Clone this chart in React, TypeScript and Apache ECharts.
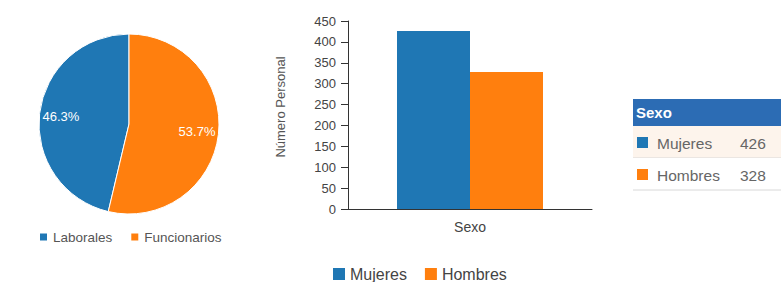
import React, { useEffect, useRef } from "react";
import * as echarts from "echarts";

const pieNames = ["Laborales", "Funcionarios"];
const pieValues = [46.3, 53.7];
const barCategories = ["Sexo"];
const barSeriesNames = ["Mujeres", "Hombres"];
const barValues = [426, 328];
const yTicks = { min: 0, max: 450, interval: 50 };
const colors = ["#1f77b4", "#ff7f0e"];

export default function App() {
  const ref = useRef<HTMLDivElement>(null);
  useEffect(() => {
    if (!ref.current) return;
    const chart = echarts.init(ref.current, undefined, { renderer: "svg" });
    const font = "Arial, 'Liberation Sans', sans-serif";
    const pieData = pieNames.map((n, i) => ({ name: n, value: pieValues[i], itemStyle: { color: colors[i] } }));

    const tableX = 633;
    const tableRows = barSeriesNames.map((n, i) => {
      const y = 126 + i * 32;
      return [
        { type: "rect", shape: { x: tableX, y, width: 148, height: 32 }, style: { fill: i === 0 ? "#fdf4ec" : "#ffffff" } },
        { type: "line", shape: { x1: tableX, y1: y + 32, x2: 781, y2: y + 32 }, style: { stroke: "#d8d8d8", lineWidth: 1 } },
        { type: "rect", shape: { x: 637, y: y + 11, width: 11, height: 11 }, style: { fill: colors[i] } },
        { type: "text", x: 657, y: y + 17, style: { text: n, fill: "#666", font: `15.5px ${font}`, verticalAlign: "middle" } },
        { type: "text", x: 740, y: y + 17, style: { text: String(barValues[i]), fill: "#666", font: `15.5px ${font}`, verticalAlign: "middle" } },
      ];
    }).flat();

    chart.setOption({
      animation: false,
      textStyle: { fontFamily: font },
      legend: [
        {
          data: pieNames,
          left: 38,
          top: 230,
          padding: 0,
          itemWidth: 9,
          itemHeight: 9,
          itemGap: 17,
          icon: "rect",
          textStyle: { fontSize: 13.5, color: "#555", fontFamily: font },
        },
        {
          data: barSeriesNames,
          left: 333,
          top: 266,
          padding: 0,
          itemWidth: 12,
          itemHeight: 12,
          itemGap: 18,
          icon: "rect",
          textStyle: { fontSize: 16, color: "#444", fontFamily: font },
        },
      ],
      grid: { left: 348, right: 189, top: 21, bottom: 73 },
      xAxis: {
        type: "category",
        data: barCategories,
        axisLine: { lineStyle: { color: "#333" } },
        axisTick: { length: 5, lineStyle: { color: "#333" } },
        axisLabel: { color: "#444", fontSize: 14, margin: 11 },
      },
      yAxis: {
        type: "value",
        min: yTicks.min,
        max: yTicks.max,
        interval: yTicks.interval,
        name: "Número Personal",
        nameLocation: "middle",
        nameGap: 61,
        nameTextStyle: { color: "#555", fontSize: 13, padding: [0, 0, 0, 16] },
        axisLine: { show: true, lineStyle: { color: "#333" } },
        axisTick: { show: true, length: 7, lineStyle: { color: "#333" } },
        axisLabel: { color: "#444", fontSize: 13, margin: 12 },
        splitLine: { show: false },
      },
      series: [
        {
          type: "pie",
          center: [129, 124],
          radius: [0, 90],
          startAngle: 90,
          clockwise: false,
          data: pieData,
          label: { show: false },
          labelLine: { show: false },
          itemStyle: { borderColor: "#fff", borderWidth: 1 },
          silent: true,
        },
        {
          type: "pie",
          center: [129, 124],
          radius: [0, 131],
          startAngle: 90,
          clockwise: false,
          data: pieNames.map((n, i) => ({ name: n, value: pieValues[i], itemStyle: { color: "rgba(0,0,0,0)" } })),
          label: {
            show: true,
            position: "inside",
            formatter: "{d}%",
            color: "#fff",
            fontSize: 13,
            fontFamily: font,
          },
          labelLine: { show: false },
          silent: true,
          legendHoverLink: false,
        },
        ...barSeriesNames.map((n, i) => ({
          type: "bar",
          name: n,
          data: [barValues[i]],
          barWidth: 73,
          barGap: "0%",
          itemStyle: { color: colors[i] },
        })),
      ],
      graphic: [
        { type: "rect", shape: { x: tableX, y: 99, width: 148, height: 27 }, style: { fill: "#2c6cb4" } },
        { type: "text", x: 636, y: 112, style: { text: barCategories[0], fill: "#fff", font: `bold 15px ${font}`, verticalAlign: "middle" } },
        { type: "line", shape: { x1: 732, y1: 126, x2: 732, y2: 190 }, style: { stroke: "#d8d8d8", lineWidth: 1 } },
        ...tableRows,
      ],
    });
    return () => chart.dispose();
  }, []);
  return <div ref={ref} style={{ width: 781, height: 282, position: "absolute", left: 0, top: 0 }} />;
}
